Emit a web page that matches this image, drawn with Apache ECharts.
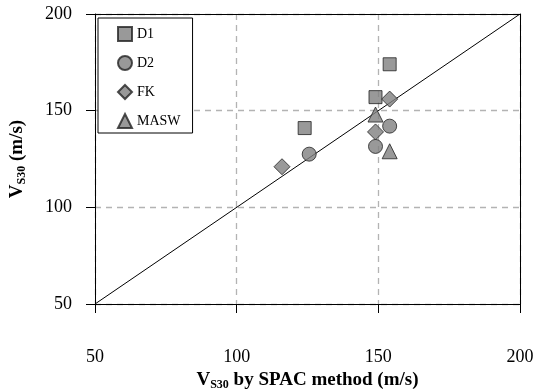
<!DOCTYPE html>
<html>
<head>
<meta charset="utf-8">
<script src="https://cdn.jsdelivr.net/npm/echarts@6/dist/echarts.min.js"></script>
<style>
  html, body { margin: 0; padding: 0; background: #fff; }
  #main { width: 536px; height: 392px; }
</style>
</head>
<body>
<div id="main"></div>
<script>
// data: [SPAC, method]
var d1 = [[124, 141], [149, 157], [154, 174]];
var d2 = [[125.6, 127.5], [149, 131.5], [154, 142]];
var fk = [[116, 121], [149, 139], [154, 156]];
var masw = [[149, 148], [154, 129]];
var oneToOne = [[50, 50], [200, 200]];
var ticks = [50, 100, 150, 200];

var serif = 'Liberation Serif';
var chart = echarts.init(document.getElementById('main'));

function pts(name, sym, size, data) {
    return {
        name: name,
        type: 'scatter',
        symbol: sym,
        symbolSize: size,
        data: data,
        z: 5,
        itemStyle: { color: '#808080', borderColor: '#222', borderWidth: 1 }
    };
}

var nameRich = {
    v: { fontFamily: serif, fontSize: 19, fontWeight: 'bold', color: '#000' },
    s: { fontFamily: serif, fontSize: 12, fontWeight: 'bold', color: '#000', padding: [9, 0, 0, 0] }
};

chart.setOption({
    animation: false,
    backgroundColor: '#fff',
    grid: { left: 95, right: 16, top: 14, bottom: 88, outerBoundsMode: 'none', containLabel: false },
    legend: {
        orient: 'vertical',
        left: 98,
        top: 18,
        data: ['D1', 'D2', 'FK', 'MASW'],
        itemWidth: 14,
        itemHeight: 14,
        itemGap: 13,
        padding: [8, 12, 4, 19],
        borderColor: '#000',
        borderWidth: 1,
        backgroundColor: '#fff',
        textStyle: { fontFamily: serif, fontSize: 14, color: '#000' }
    },
    xAxis: [{
        type: 'value',
        min: 50, max: 200, interval: 50,
        name: '{v|V}{s|S30}{v| by SPAC method (m/s)}',
        nameLocation: 'middle',
        nameGap: 64,
        nameTextStyle: { rich: nameRich },
        axisLine: { lineStyle: { color: '#000', width: 1 } },
        axisTick: { length: 9, lineStyle: { color: '#000' } },
        axisLabel: { margin: 44, fontFamily: serif, fontSize: 18, color: '#000' },
        splitLine: { show: true, lineStyle: { color: '#b3b3b3', type: [6, 5], width: 1.3 } }
    }, {
        type: 'value', position: 'top', min: 50, max: 200, z: 10,
        axisLine: { show: true, lineStyle: { color: '#000', width: 1 } },
        axisTick: { show: false }, axisLabel: { show: false }, splitLine: { show: false }
    }],
    yAxis: [{
        type: 'value',
        min: 50, max: 200, interval: 50,
        name: '{v|V}{s|S30}{v| (m/s)}',
        nameLocation: 'middle',
        nameGap: 67,
        nameTextStyle: { rich: nameRich },
        axisLine: { show: true, lineStyle: { color: '#000', width: 1 } },
        axisTick: { show: true, length: 9, lineStyle: { color: '#000' } },
        axisLabel: { margin: 23, fontFamily: serif, fontSize: 18, color: '#000' },
        splitLine: { show: true, lineStyle: { color: '#b3b3b3', type: [6, 5], width: 1.3 } }
    }, {
        type: 'value', position: 'right', min: 50, max: 200, z: 10,
        axisLine: { show: true, lineStyle: { color: '#000', width: 1 } },
        axisTick: { show: false }, axisLabel: { show: false }, splitLine: { show: false }
    }],
    series: [
        {
            name: '1:1',
            type: 'line',
            data: oneToOne,
            symbol: 'none',
            silent: true,
            z: 3,
            lineStyle: { color: '#000', width: 1 }
        },
        pts('D1', 'rect', 13, d1),
        pts('D2', 'circle', 14, d2),
        pts('FK', 'diamond', 16, fk),
        pts('MASW', 'triangle', 15, masw)
    ]
});
</script>
</body>
</html>
